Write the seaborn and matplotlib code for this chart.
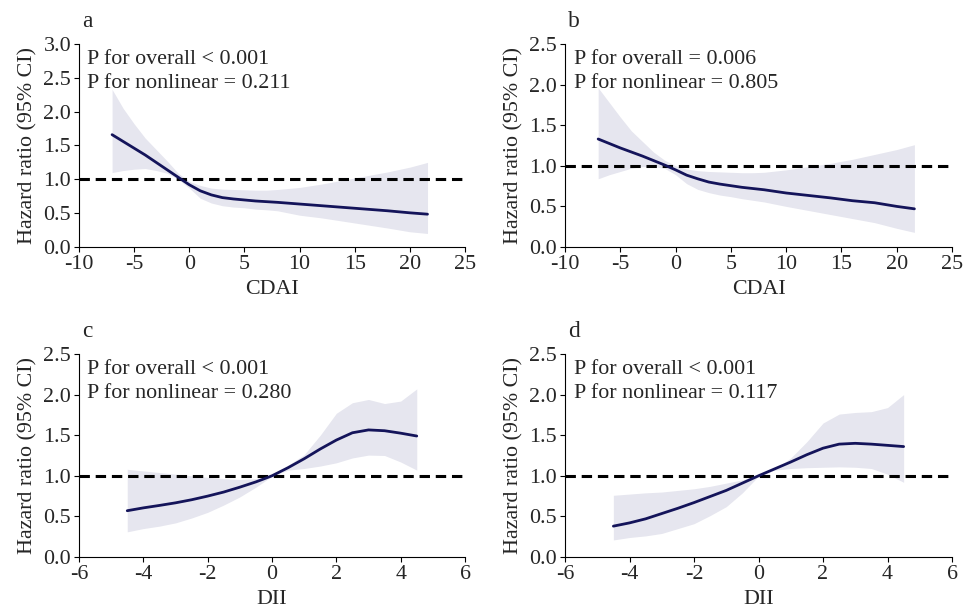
import matplotlib
matplotlib.use("Agg")
import matplotlib.pyplot as plt
import seaborn as sns
import pandas as pd

# ---- restricted cubic spline results: hazard ratio with 95% CI ----
cdai_x = [-7, -6, -5, -4, -3, -2, -1, 0, 1, 2, 3, 4, 5, 6, 7, 8, 10, 12, 14, 16, 18, 20, 21.6]

a_hr = [1.66, 1.56, 1.46, 1.36, 1.25, 1.14, 1.03, 0.92, 0.83, 0.77, 0.73, 0.71, 0.695, 0.68, 0.67,
        0.66, 0.635, 0.61, 0.585, 0.56, 0.535, 0.505, 0.485]
a_lo = [1.10, 1.13, 1.15, 1.16, 1.13, 1.09, 1.00, 0.87, 0.72, 0.65, 0.61, 0.59, 0.58, 0.56, 0.55,
        0.535, 0.47, 0.43, 0.38, 0.33, 0.28, 0.225, 0.20]
a_hi = [2.33, 2.05, 1.82, 1.61, 1.44, 1.27, 1.09, 0.97, 0.91, 0.87, 0.855, 0.85, 0.845, 0.84, 0.84,
        0.85, 0.88, 0.93, 0.99, 1.05, 1.11, 1.18, 1.25]

b_hr = [1.33, 1.275, 1.22, 1.17, 1.12, 1.065, 1.01, 0.95, 0.885, 0.84, 0.80, 0.775, 0.755, 0.735,
        0.72, 0.705, 0.665, 0.635, 0.605, 0.57, 0.545, 0.50, 0.47]
b_lo = [0.84, 0.89, 0.93, 0.97, 0.99, 0.99, 0.97, 0.89, 0.78, 0.71, 0.67, 0.64, 0.62, 0.595, 0.575,
        0.555, 0.50, 0.45, 0.40, 0.35, 0.30, 0.23, 0.18]
b_hi = [1.96, 1.78, 1.60, 1.43, 1.30, 1.17, 1.07, 1.00, 0.96, 0.94, 0.93, 0.925, 0.92, 0.915, 0.915,
        0.92, 0.95, 0.99, 1.03, 1.08, 1.14, 1.20, 1.26]

dii_x = [-4.5, -4, -3.5, -3, -2.5, -2, -1.5, -1, -0.5, 0, 0.5, 1, 1.5, 2, 2.5, 3, 3.5, 4, 4.5]

c_hr = [0.57, 0.605, 0.635, 0.667, 0.705, 0.75, 0.80, 0.86, 0.925, 1.0, 1.10, 1.21, 1.33, 1.44,
        1.53, 1.565, 1.555, 1.525, 1.49]
c_lo = [0.31, 0.35, 0.38, 0.42, 0.48, 0.55, 0.64, 0.74, 0.86, 0.995, 1.07, 1.09, 1.12, 1.16, 1.22,
        1.255, 1.25, 1.17, 1.07]
c_hi = [1.08, 1.06, 1.04, 1.02, 1.00, 0.98, 0.965, 0.955, 0.965, 1.005, 1.13, 1.26, 1.50, 1.77,
        1.90, 1.94, 1.89, 1.92, 2.07]

d_hr = [0.38, 0.42, 0.47, 0.535, 0.60, 0.67, 0.745, 0.82, 0.91, 1.0, 1.085, 1.17, 1.26, 1.34, 1.39,
        1.40, 1.39, 1.375, 1.36]
d_lo = [0.21, 0.24, 0.26, 0.29, 0.35, 0.41, 0.51, 0.62, 0.79, 0.995, 1.07, 1.09, 1.10, 1.105, 1.11,
        1.105, 1.09, 1.02, 0.92]
d_hi = [0.76, 0.775, 0.79, 0.80, 0.82, 0.84, 0.87, 0.91, 0.95, 1.005, 1.08, 1.22, 1.42, 1.65, 1.76,
        1.78, 1.79, 1.84, 2.00]

panel_letters = ["a", "b", "c", "d"]
x_names = ["CDAI", "CDAI", "DII", "DII"]
p_overall = ["P for overall < 0.001", "P for overall = 0.006",
             "P for overall < 0.001", "P for overall < 0.001"]
p_nonlinear = ["P for nonlinear = 0.211", "P for nonlinear = 0.805",
               "P for nonlinear = 0.280", "P for nonlinear = 0.117"]
cdai_ticks = [-10, -5, 0, 5, 10, 15, 20, 25]
dii_ticks = [-6, -4, -2, 0, 2, 4, 6]
y_top = [3.0, 2.5, 2.5, 2.5]

panels = [
    (cdai_x, a_hr, a_lo, a_hi, cdai_ticks),
    (cdai_x, b_hr, b_lo, b_hi, cdai_ticks),
    (dii_x, c_hr, c_lo, c_hi, dii_ticks),
    (dii_x, d_hr, d_lo, d_hi, dii_ticks),
]

sns.set_theme(style="ticks")
plt.rcParams["font.family"] = ["Liberation Serif", "DejaVu Serif"]
plt.rcParams["axes.unicode_minus"] = False

LINE = "#14145a"
BAND = "#e6e6ef"
FS = 15.8

fig = plt.figure(figsize=(9.63, 6.13), dpi=100)
W, H = 963.0, 613.0
boxes = [(79, 44, 465, 247), (565, 44, 952, 247),
         (79, 354, 465, 557), (565, 354, 952, 557)]

for i, (xs, hr, lo, hi, xt) in enumerate(panels):
    l, t, r, b = boxes[i]
    ax = fig.add_axes([l / W, 1 - b / H, (r - l) / W, (b - t) / H])
    df = pd.DataFrame({"x": xs, "hr": hr, "lo": lo, "hi": hi})

    ax.fill_between(df["x"], df["lo"], df["hi"], color=BAND, lw=0, zorder=1)
    sns.lineplot(data=df, x="x", y="hr", ax=ax, color=LINE, lw=2.0, zorder=3)
    ax.axhline(1.0, color="black", lw=2.2, dashes=(3.4, 1.9), zorder=2)

    ax.set_xlim(xt[0], xt[-1])
    ax.set_ylim(0, y_top[i])
    ax.set_xticks(xt)
    ax.set_xticklabels([str(v) for v in xt])
    yt = [k * 0.5 for k in range(int(round(y_top[i] / 0.5)) + 1)]
    ax.set_yticks(yt)
    ax.set_yticklabels([f"{v:.1f}" for v in yt])

    ax.set_xlabel(x_names[i], fontsize=FS)
    ax.set_ylabel("Hazard ratio (95% CI)", fontsize=FS)
    ax.xaxis.set_label_coords(0.5, -0.165)
    ax.yaxis.set_label_coords(-0.108, 0.5)

    ax.tick_params(axis="both", labelsize=FS, length=3.6, width=0.8,
                   color="black", pad=2, direction="out")
    sns.despine(ax=ax)
    for s in ("left", "bottom"):
        ax.spines[s].set_color("black")
        ax.spines[s].set_linewidth(0.8)

    ax.text(0.022, 0.925, p_overall[i], transform=ax.transAxes,
            fontsize=FS, va="center", ha="left")
    ax.text(0.022, 0.805, p_nonlinear[i], transform=ax.transAxes,
            fontsize=FS, va="center", ha="left")
    ax.text(0.008, 1.11, panel_letters[i], transform=ax.transAxes,
            fontsize=FS + 1, va="center", ha="left")

fig.savefig("out.png", dpi=100)
